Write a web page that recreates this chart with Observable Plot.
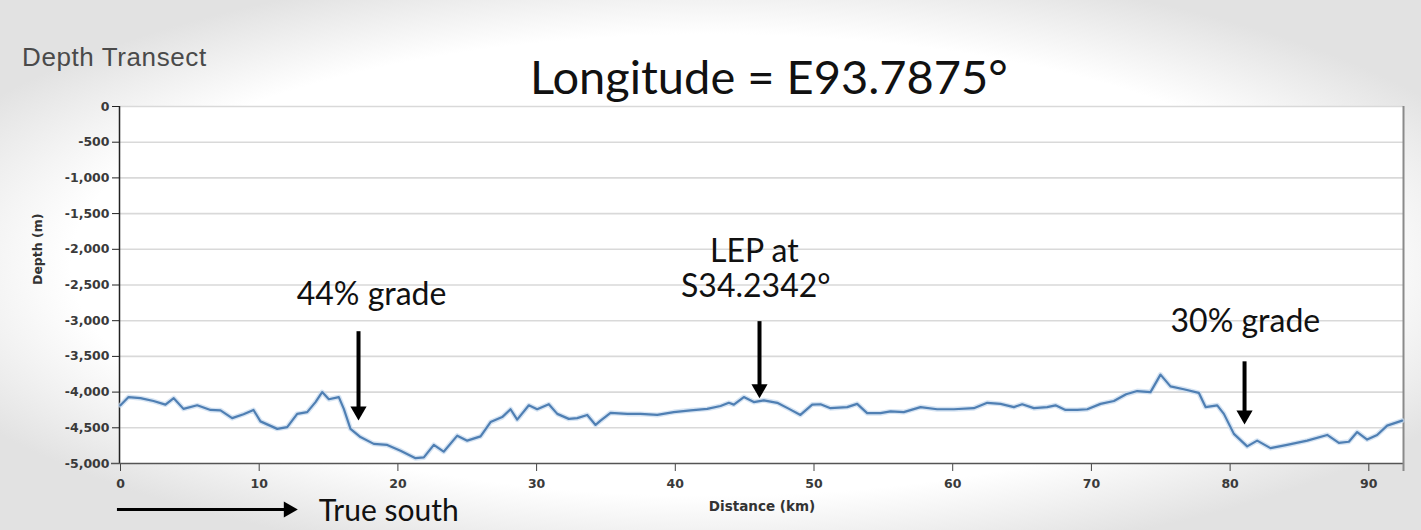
<!DOCTYPE html>
<html>
<head>
<meta charset="utf-8">
<script src="https://cdn.jsdelivr.net/npm/d3@7"></script>
<script src="https://cdn.jsdelivr.net/npm/@observablehq/plot@0.6"></script>
<style>
  html, body { margin: 0; padding: 0; }
  body {
    width: 1421px; height: 530px; overflow: hidden; position: relative;
    background: radial-gradient(ellipse 60% 58% at 50% 50%, #ffffff 75%, #e2e2e2 100%);
  }
  #panel-title { position: absolute; left: 22px; top: 42px; font: 26px "Liberation Sans", Arial, sans-serif; letter-spacing: 0.6px; color: #4a4a4a; }
  #main-title { position: absolute; left: 530px; top: 48px; font: 47px Lato, sans-serif; color: #111; white-space: nowrap; }
  #chart { position: absolute; left: 0; top: 90px; }
</style>
</head>
<body>
<div id="panel-title">Depth Transect</div>
<div id="main-title">Longitude = E93.7875°</div>
<div id="chart"></div>
<script>
// Transect profile (distance km, depth m)
const distKm = [0, 0.58, 1.44, 2.38, 3.24, 3.84, 4.54, 5.53, 6.49, 7.21, 8.05, 8.87, 9.59, 10.09, 11.3, 12.02, 12.74, 13.46, 14.06, 14.54, 15.02, 15.74, 16.1, 16.58, 17.3, 18.26, 19.23, 20.19, 21.27, 21.87, 22.59, 23.3, 24.28, 25.0, 25.96, 26.68, 27.52, 28.12, 28.6, 29.44, 30.04, 30.88, 31.49, 32.32, 32.93, 33.65, 34.25, 34.61, 35.33, 36.53, 37.49, 38.7, 39.89, 41.1, 42.3, 43.26, 43.86, 44.22, 44.94, 45.66, 46.38, 47.35, 48.2, 49.02, 49.87, 50.47, 51.19, 52.39, 53.11, 53.83, 54.79, 55.52, 56.47, 57.68, 58.88, 60.08, 61.52, 62.49, 63.45, 64.41, 65.01, 65.85, 66.81, 67.41, 68.13, 68.98, 69.7, 70.66, 71.62, 72.5, 73.3, 74.26, 74.98, 75.7, 76.66, 77.74, 78.23, 79.07, 79.55, 80.27, 81.23, 81.95, 82.91, 84.11, 85.56, 87.0, 87.84, 88.56, 89.16, 89.88, 90.6, 91.32, 92.4];
const depthM = [-4185, -4070, -4085, -4125, -4175, -4085, -4235, -4185, -4250, -4255, -4365, -4310, -4250, -4410, -4515, -4490, -4305, -4280, -4140, -4000, -4100, -4070, -4235, -4515, -4630, -4725, -4740, -4820, -4925, -4915, -4740, -4835, -4610, -4680, -4620, -4420, -4350, -4240, -4385, -4185, -4240, -4170, -4305, -4375, -4365, -4320, -4460, -4400, -4290, -4305, -4305, -4320, -4280, -4255, -4235, -4195, -4150, -4175, -4070, -4140, -4115, -4150, -4235, -4320, -4175, -4170, -4225, -4210, -4165, -4295, -4295, -4270, -4280, -4210, -4240, -4240, -4225, -4150, -4165, -4210, -4170, -4225, -4210, -4185, -4250, -4250, -4240, -4165, -4125, -4030, -3985, -4000, -3755, -3920, -3960, -4010, -4210, -4185, -4305, -4585, -4760, -4680, -4785, -4740, -4680, -4600, -4710, -4695, -4560, -4665, -4600, -4470, -4400];

const xTicks = [0, 10, 20, 30, 40, 50, 60, 70, 80, 90];
const yTicks = [0, -500, -1000, -1500, -2000, -2500, -3000, -3500, -4000, -4500, -5000];
const xMax = 92.5;

// Annotations
const noteText = ["44% grade", "LEP at", "S34.2342°", "30% grade"];
const noteX = [18.1, 45.7, 45.8, 81.1];
const noteY = [-2633, -2028, -2520, -3013];

const arrowX = [17.16, 46.07, 81.04];
const arrowTop = [-3154, -3013, -3576];
const arrowTip = [-4393, -4083, -4449];

const southText = "True south";
const southStartX = -0.22;
const southTipX = 12.76;
const southTextX = 14.3;

const profile = distKm.map((d, i) => ({d, z: depthM[i]}));
const notes = noteText.map((t, i) => ({t, x: noteX[i], y: noteY[i]}));
const arrows = arrowX.map((x, i) => ({x, y1: arrowTop[i], y2: arrowTip[i]}));
const fmt = d => (d < 0 ? "-" : "") + d3.format(",")(Math.abs(d));

const chart = Plot.plot({
  width: 1421,
  height: 440,
  marginLeft: 120,
  marginRight: 18,
  marginTop: 16,
  marginBottom: 67,
  style: {background: "transparent", overflow: "visible", fontFamily: "'DejaVu Sans', Verdana, sans-serif"},
  x: {domain: [0, xMax]},
  y: {domain: [-5000, 0]},
  marks: [
    Plot.frame({fill: "white", stroke: "none"}),
    Plot.gridY(yTicks.filter(d => d > -5000), {stroke: "#d9d9d9", strokeOpacity: 1, strokeWidth: 1.6}),
    // axes
    Plot.axisY({ticks: yTicks, tickSize: 8, tickPadding: 3, tickFormat: fmt, fontSize: 12.5, fontWeight: "bold", fill: "#3a3a3a", stroke: "#222", label: null}),
    Plot.axisX({ticks: xTicks, tickSize: 8, tickPadding: 8, fontSize: 12.5, fontWeight: "bold", fill: "#3a3a3a", stroke: "#444", label: null}),
    Plot.ruleX([0], {stroke: "#222", strokeWidth: 1.5, dx: -1}),
    Plot.ruleY([-5000], {stroke: "#555", strokeWidth: 1.5, insetLeft: -9}),
    Plot.ruleX([xMax], {stroke: "#8a8a8a", strokeWidth: 2, insetBottom: -8}),
    Plot.text(["Depth (m)"], {frameAnchor: "left", rotate: -90, dx: -83, fontSize: 12.5, fontWeight: "bold", fill: "#333"}),
    Plot.text(["Distance (km)"], {frameAnchor: "bottom", dy: 47, fontSize: 13.5, fontWeight: "bold", fill: "#333"}),
    // profile line with soft halo
    Plot.line(profile, {x: "d", y: "z", stroke: "#c4d8ee", strokeWidth: 5, strokeOpacity: 0.7}),
    Plot.line(profile, {x: "d", y: "z", stroke: "#4f7fb3", strokeWidth: 2.2}),
    // annotation arrows
    Plot.ruleX(arrows, {x: "x", y1: "y1", y2: "y2", stroke: "black", strokeWidth: 4, insetBottom: 9}),
    Plot.dot(arrows, {x: "x", y: "y2", symbol: "triangle", rotate: 180, r: 6, fill: "black", stroke: "none", dy: -9}),
    Plot.text(notes, {x: "x", y: "y", text: "t", fontSize: 32, fontFamily: "Lato, sans-serif", fill: "#111"}),
    // True south arrow below the axis
    Plot.ruleY([{y: -5000, x1: southStartX, x2: southTipX}], {y: "y", x1: "x1", x2: "x2", dy: 46, stroke: "black", strokeWidth: 3, insetRight: 9}),
    Plot.dot([{x: southTipX, y: -5000}], {x: "x", y: "y", symbol: "triangle", rotate: 90, r: 6, fill: "black", stroke: "none", dx: -9, dy: 46}),
    Plot.text([{x: southTextX, y: -5000, t: southText}], {x: "x", y: "y", text: "t", dy: 48, textAnchor: "start", fontSize: 30, fontFamily: "Lato, sans-serif", fill: "#111"})
  ]
});
document.getElementById("chart").appendChild(chart);
</script>
</body>
</html>
